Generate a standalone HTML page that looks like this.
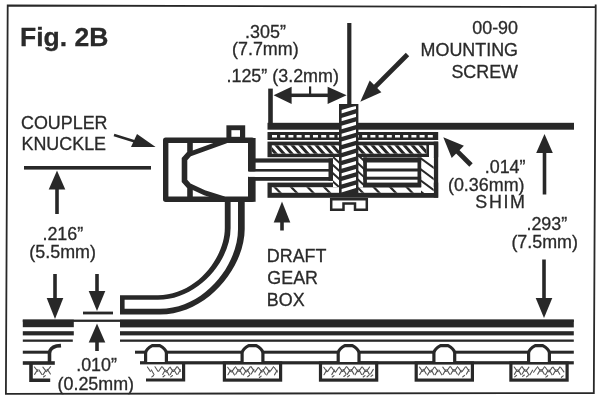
<!DOCTYPE html>
<html><head><meta charset="utf-8"><title>Fig. 2B</title>
<style>
html,body{margin:0;padding:0;background:#fff;}
svg{display:block;will-change:transform;}
svg text{font-family:"Liberation Sans",sans-serif;fill:#2a2a2a;stroke:#2a2a2a;stroke-width:0.3px;}
</style></head>
<body>
<svg width="600" height="401" viewBox="0 0 600 401" stroke="#282828" fill="none">
<rect x="0" y="0" width="600" height="401" fill="#fff" stroke="none"/>
<path d="M7.7,5.5 L595.7,7.2 L593.8,393 L5.9,393.9 Z M595.7,4.5 L595.7,8" fill="none" stroke-width="1.8"/>
<text x="20" y="46" text-anchor="start" font-size="26.5" font-weight="bold" >Fig. 2B</text>
<text x="21" y="129.3" text-anchor="start" font-size="17.9" font-weight="normal" >COUPLER</text>
<text x="21.5" y="150.3" text-anchor="start" font-size="17.9" font-weight="normal" >KNUCKLE</text>
<text x="265.5" y="37.5" text-anchor="middle" font-size="17.9" font-weight="normal" >.305”</text>
<text x="265.3" y="54.5" text-anchor="middle" font-size="17.9" font-weight="normal" >(7.7mm)</text>
<text x="226.5" y="82" text-anchor="start" font-size="17.9" font-weight="normal" >.125” (3.2mm)</text>
<text x="518" y="33.5" text-anchor="end" font-size="17.9" font-weight="normal" >00-90</text>
<text x="518" y="55.5" text-anchor="end" font-size="17.9" font-weight="normal" >MOUNTING</text>
<text x="518" y="77.5" text-anchor="end" font-size="17.9" font-weight="normal" >SCREW</text>
<text x="525.5" y="173" text-anchor="end" font-size="17.9" font-weight="normal" >.014”</text>
<text x="524.5" y="191" text-anchor="end" font-size="17.9" font-weight="normal" >(0.36mm)</text>
<text x="526.5" y="208" text-anchor="end" font-size="17.9" font-weight="normal" letter-spacing="1.6">SHIM</text>
<text x="546.8" y="229.5" text-anchor="middle" font-size="17.9" font-weight="normal" >.293”</text>
<text x="544.7" y="247.5" text-anchor="middle" font-size="17.9" font-weight="normal" >(7.5mm)</text>
<text x="62.8" y="240" text-anchor="middle" font-size="17.9" font-weight="normal" >.216”</text>
<text x="62.6" y="258" text-anchor="middle" font-size="17.9" font-weight="normal" >(5.5mm)</text>
<text x="96.6" y="371" text-anchor="middle" font-size="17.9" font-weight="normal" >.010”</text>
<text x="95.8" y="389.5" text-anchor="middle" font-size="17.9" font-weight="normal" >(0.25mm)</text>
<text x="266.8" y="262" text-anchor="start" font-size="17.9" font-weight="normal" >DRAFT</text>
<text x="267.3" y="284.3" text-anchor="start" font-size="17.9" font-weight="normal" >GEAR</text>
<text x="266.8" y="306" text-anchor="start" font-size="17.9" font-weight="normal" >BOX</text>
<rect x="22.8" y="319.6" width="51" height="7.6" fill="#282828" stroke="none" />
<rect x="22.8" y="319.6" width="551" height="2.3" fill="#282828" stroke="none" />
<rect x="120" y="319.6" width="453.8" height="7.8" fill="#282828" stroke="none" />
<rect x="22.8" y="331.2" width="51" height="4.2" fill="#282828" stroke="none" />
<rect x="120" y="331.2" width="453.8" height="4.2" fill="#282828" stroke="none" />
<rect x="22.8" y="339.5" width="50" height="2.3" fill="#282828" stroke="none" />
<rect x="120" y="339.5" width="453.8" height="2.3" fill="#282828" stroke="none" />
<rect x="22.8" y="350.7" width="26" height="3" fill="#282828" stroke="none" />
<rect x="135" y="350.7" width="438.8" height="3" fill="#282828" stroke="none" />
<rect x="22.8" y="361.2" width="32" height="3.6" fill="#282828" stroke="none" />
<rect x="140" y="361.2" width="433.8" height="3.2" fill="#282828" stroke="none" />
<rect x="510.90000000000003" y="363" width="56.199999999999996" height="17.1" fill="#fff" stroke-width="3.2"/>
<path d="M514.2,367.0 L517.3,371.4 M514.4,374.4 L517.1,369.8 M514.8,376.8 l1.8,-1.4 M518.1,371.6 L521.2,367.2 M518.3,370.0 L521.0,374.6 M522.0,366.6 L525.1,371.0 M522.2,374.0 L524.9,369.4 M522.6,376.4 l1.8,-1.4 M525.9,371.5 L528.9,367.1 M526.1,369.9 L528.7,374.5 M526.5,376.9 l1.8,-1.4 M529.9,374.8 L532.6,370.2 M533.6,372.2 L536.7,367.8 M537.5,366.8 L540.6,371.2 M537.7,374.2 L540.4,369.6 M541.4,371.2 L544.5,366.8 M541.6,369.6 L544.3,374.2 M545.3,367.3 L548.4,371.7 M545.5,374.7 L548.2,370.1 M545.9,377.1 l1.8,-1.4 M549.2,371.8 L552.2,367.4 M549.4,370.2 L552.0,374.8 M553.0,367.1 L556.1,371.5 M553.2,374.5 L555.9,369.9 M556.9,371.3 L560.0,366.9 M557.1,369.7 L559.8,374.3 M560.8,367.5 L563.9,371.9 M561.4,377.3 l1.8,-1.4" stroke="#555" stroke-width="1.1" fill="none" stroke-linecap="round"/>
<path d="M528.6,362 L528.6,352.6 Q529.6,348.6 535.2,345.6 L542.8,345.6 Q548.4,348.6 549.4,352.6 L549.4,362 Z" fill="#fff" stroke="none"/>
<path d="M528.6,362 L528.6,352.6 Q529.6,348.6 535.2,345.6 L542.8,345.6 Q548.4,348.6 549.4,352.6 L549.4,362" fill="none" stroke-width="3.2" stroke-linejoin="round"/>
<rect x="416.20000000000005" y="363" width="56.199999999999996" height="17.1" fill="#fff" stroke-width="3.2"/>
<path d="M419.5,367.1 L422.6,371.5 M419.7,374.5 L422.4,369.9 M423.4,371.0 L426.5,366.6 M423.6,369.4 L426.3,374.0 M427.3,367.7 L430.4,372.1 M427.5,375.1 L430.2,370.5 M431.2,371.7 L434.2,367.3 M431.4,370.1 L434.0,374.7 M435.0,367.2 L438.1,371.6 M435.2,374.6 L437.9,370.0 M439.1,370.2 L441.8,374.8 M442.8,367.1 L445.9,371.5 M443.0,374.5 L445.7,369.9 M446.7,371.2 L449.8,366.8 M446.9,369.6 L449.6,374.2 M450.6,366.8 L453.7,371.2 M450.8,374.2 L453.5,369.6 M454.5,371.1 L457.5,366.7 M454.7,369.5 L457.3,374.1 M458.3,367.6 L461.4,372.0 M458.5,375.0 L461.2,370.4 M462.2,371.4 L465.3,367.0 M462.8,376.8 l1.8,-1.4 M466.1,366.8 L469.2,371.2 M466.3,374.2 L469.0,369.6" stroke="#555" stroke-width="1.1" fill="none" stroke-linecap="round"/>
<path d="M433.90000000000003,362 L433.90000000000003,352.6 Q434.90000000000003,348.6 440.5,345.6 L448.1,345.6 Q453.7,348.6 454.7,352.6 L454.7,362 Z" fill="#fff" stroke="none"/>
<path d="M433.90000000000003,362 L433.90000000000003,352.6 Q434.90000000000003,348.6 440.5,345.6 L448.1,345.6 Q453.7,348.6 454.7,352.6 L454.7,362" fill="none" stroke-width="3.2" stroke-linejoin="round"/>
<rect x="320.50000000000006" y="363" width="56.199999999999996" height="17.1" fill="#fff" stroke-width="3.2"/>
<path d="M323.8,367.3 L326.9,371.7 M324.0,374.7 L326.7,370.1 M327.7,371.4 L330.8,367.0 M331.6,367.2 L334.7,371.6 M331.8,374.6 L334.5,370.0 M332.2,377.0 l1.8,-1.4 M335.5,372.1 L338.5,367.7 M339.3,367.1 L342.4,371.5 M339.5,374.5 L342.2,369.9 M343.2,371.1 L346.3,366.7 M343.4,369.5 L346.1,374.1 M343.8,376.5 l1.8,-1.4 M347.1,367.0 L350.2,371.4 M347.3,374.4 L350.0,369.8 M347.7,376.8 l1.8,-1.4 M351.0,371.1 L354.1,366.7 M351.2,369.5 L353.9,374.1 M354.9,367.3 L358.0,371.7 M355.1,374.7 L357.8,370.1 M358.8,371.4 L361.8,367.0 M359.0,369.8 L361.6,374.4 M362.6,367.2 L365.7,371.6 M362.8,374.6 L365.5,370.0 M363.2,377.0 l1.8,-1.4 M366.5,371.4 L369.6,367.0 M366.7,369.8 L369.4,374.4 M367.1,376.8 l1.8,-1.4 M370.6,374.0 L373.3,369.4 M371.0,376.4 l1.8,-1.4" stroke="#555" stroke-width="1.1" fill="none" stroke-linecap="round"/>
<path d="M338.20000000000005,362 L338.20000000000005,352.6 Q339.20000000000005,348.6 344.8,345.6 L352.40000000000003,345.6 Q358.0,348.6 359.0,352.6 L359.0,362 Z" fill="#fff" stroke="none"/>
<path d="M338.20000000000005,362 L338.20000000000005,352.6 Q339.20000000000005,348.6 344.8,345.6 L352.40000000000003,345.6 Q358.0,348.6 359.0,352.6 L359.0,362" fill="none" stroke-width="3.2" stroke-linejoin="round"/>
<rect x="224.4" y="363" width="56.199999999999996" height="17.1" fill="#fff" stroke-width="3.2"/>
<path d="M227.7,367.3 L230.8,371.7 M227.9,374.7 L230.6,370.1 M231.6,372.0 L234.7,367.6 M231.8,370.4 L234.5,375.0 M235.5,366.8 L238.6,371.2 M235.7,374.2 L238.4,369.6 M239.4,371.4 L242.4,367.0 M239.6,369.8 L242.2,374.4 M243.2,367.6 L246.3,372.0 M243.4,375.0 L246.1,370.4 M247.1,371.3 L250.2,366.9 M247.3,369.7 L250.0,374.3 M247.7,376.7 l1.8,-1.4 M251.0,366.6 L254.1,371.0 M251.2,374.0 L253.9,369.4 M254.9,372.1 L258.0,367.7 M258.8,367.7 L261.9,372.1 M259.0,375.1 L261.7,370.5 M259.4,377.5 l1.8,-1.4 M262.7,371.2 L265.7,366.8 M262.9,369.6 L265.5,374.2 M266.5,367.6 L269.6,372.0 M266.7,375.0 L269.4,370.4 M270.4,371.1 L273.5,366.7 M274.3,367.5 L277.4,371.9 M274.5,374.9 L277.2,370.3" stroke="#555" stroke-width="1.1" fill="none" stroke-linecap="round"/>
<path d="M242.1,362 L242.1,352.6 Q243.1,348.6 248.7,345.6 L256.3,345.6 Q261.9,348.6 262.9,352.6 L262.9,362 Z" fill="#fff" stroke="none"/>
<path d="M242.1,362 L242.1,352.6 Q243.1,348.6 248.7,345.6 L256.3,345.6 Q261.9,348.6 262.9,352.6 L262.9,362" fill="none" stroke-width="3.2" stroke-linejoin="round"/>
<path d="M146,380 L183.6,380 L183.6,363" fill="none" stroke-width="3.2"/>
<path d="M147.4,367.0 L150.4,371.4 M151.4,369.9 L154.0,374.5 M151.8,376.9 l1.8,-1.4 M155.0,366.8 L157.9,371.2 M158.7,371.2 L161.7,366.8 M162.5,367.0 L165.5,371.4 M162.7,374.4 L165.3,369.8 M163.1,376.8 l1.8,-1.4 M166.3,372.2 L169.3,367.8 M166.5,370.6 L169.1,375.2 M170.1,367.1 L173.0,371.5 M170.3,374.5 L172.8,369.9 M170.7,376.9 l1.8,-1.4 M173.8,371.3 L176.8,366.9 M174.0,369.7 L176.6,374.3 M177.6,366.9 L180.6,371.3 M177.8,374.3 L180.4,369.7" stroke="#555" stroke-width="1.1" fill="none" stroke-linecap="round"/>
<path d="M145.6,362 L145.6,352.6 Q146.6,348.6 152.2,345.6 L159.8,345.6 Q165.4,348.6 166.4,352.6 L166.4,362 Z" fill="#fff" stroke="none"/>
<path d="M145.6,362 L145.6,352.6 Q146.6,348.6 152.2,345.6 L159.8,345.6 Q165.4,348.6 166.4,352.6 L166.4,362" fill="none" stroke-width="3.2" stroke-linejoin="round"/>
<path d="M50.2,380.2 L31,380.2 L31,363" fill="none" stroke-width="3.6"/>
<path d="M34.4,367.0 L37.9,371.4 M34.6,374.4 L37.6,369.8 M38.9,369.9 L41.9,374.5 M42.9,367.2 L46.4,371.6 M43.1,374.6 L46.1,370.0 M43.5,377.0 l1.8,-1.4 M47.1,371.0 L50.6,366.6 M47.4,369.4 L50.4,374.0" stroke="#555" stroke-width="1.1" fill="none" stroke-linecap="round"/>
<path d="M49.5,362 L49.5,353 Q50,347.8 56.5,346 L61,345.6" fill="none" stroke-width="3.6"/>
<rect x="83" y="311.6" width="30" height="2.8" fill="#282828" stroke="none" />
<polygon points="97,311 88.7,291 105.3,291" fill="#282828" stroke="none" />
<line x1="97" y1="292" x2="97" y2="274" stroke-width="3.6" />
<polygon points="97,323.5 88.7,342.5 105.3,342.5" fill="#282828" stroke="none" />
<line x1="97" y1="341.5" x2="97" y2="351" stroke-width="3.6" />
<polygon points="55,319 46.7,298 63.3,298" fill="#282828" stroke="none" />
<line x1="55" y1="299" x2="55" y2="274" stroke-width="3.6" />
<polygon points="57,170.5 48.7,189.5 65.3,189.5" fill="#282828" stroke="none" />
<line x1="57" y1="188.5" x2="57" y2="214" stroke-width="3.6" />
<rect x="24" y="166" width="127" height="3.6" fill="#282828" stroke="none" />
<rect x="267.5" y="122.8" width="306.5" height="6.9" fill="#282828" stroke="none" />
<polygon points="544.5,134 536.2,153 552.8,153" fill="#282828" stroke="none" />
<line x1="544.5" y1="152" x2="544.5" y2="194.5" stroke-width="3.6" />
<polygon points="544,318 535.7,298 552.3,298" fill="#282828" stroke="none" />
<line x1="544" y1="299" x2="544" y2="259.5" stroke-width="3.6" />
<rect x="347.2" y="23" width="4.2" height="82" fill="#282828" stroke="none" />
<rect x="268.2" y="88.6" width="4.6" height="36" fill="#282828" stroke="none" />
<polygon points="346.6,95.3 327.6,86.7 327.6,103.9" fill="#282828" stroke="none" />
<line x1="328.6" y1="95.3" x2="300" y2="95.3" stroke-width="3.5" />
<polygon points="273.6,95.3 291.6,103.9 291.6,86.7" fill="#282828" stroke="none" />
<line x1="290.6" y1="95.3" x2="300" y2="95.3" stroke-width="3.5" />
<rect x="309" y="86.4" width="2.2" height="8" fill="#282828" stroke="none" />
<polygon points="360.3,101.7 381.4,92.3 369.7,80.6" fill="#282828" stroke="none" />
<line x1="374.9" y1="87.1" x2="407.5" y2="54.5" stroke-width="4.8" />
<polygon points="443.3,137.3 451.7,157.9 463.9,145.7" fill="#282828" stroke="none" />
<line x1="457.1" y1="151.1" x2="471" y2="165" stroke-width="4.8" />
<polygon points="282,201.5 273.7,222.5 290.3,222.5" fill="#282828" stroke="none" />
<line x1="282" y1="221.5" x2="282" y2="230.5" stroke-width="3.6" />
<polygon points="155.6,147 131,147 137,134" fill="#282828" stroke="none" />
<line x1="114" y1="135" x2="135" y2="141.5" stroke-width="2.6" />
<path d="M224.8,198 L224.8,228 C224.8,258 196,295.2 158,295.2 L120,295.2 L120,314.5 L160,314.5 C208,314.5 245.4,266 244.7,228 L244.7,198 Z" fill="#282828" stroke="none"/>
<path d="M230.6,198 L230.6,228 C230.6,261 198,299.8 158,299.8 L124.6,299.8 L124.6,308.8 L160,308.8 C205,308.8 238.6,264 238,228 L238,198 Z" fill="#fff" stroke="none"/>
<path d="M165.7,140.2 L252,140.2 L252,199.3 L165.7,199.3 Z" fill="#fff" stroke-width="5.4" stroke-linejoin="round"/>
<rect x="226.4" y="125.3" width="18.8" height="14" fill="#282828" stroke="none"/><rect x="231.4" y="130.2" width="8.6" height="6.6" fill="#fff" stroke="none"/>
<rect x="248" y="138" width="7.6" height="33.5" fill="#282828" stroke="none" />
<rect x="248" y="176.8" width="7.6" height="25" fill="#282828" stroke="none" />
<rect x="249" y="171.4" width="8" height="5.5" fill="#fff" stroke="none" />
<path d="M190,141 L190,153 L184.5,159 L184.5,181 L190,187 L190,199" fill="none" stroke-width="5.6"/>
<path d="M190,154 L208,147.5 L226,141" fill="none" stroke-width="5"/>
<path d="M190,186 L205,193 L224,199" fill="none" stroke-width="5"/>
<rect x="267.5" y="132" width="170.7" height="8" fill="#282828" stroke="none" />
<line x1="272" y1="136.2" x2="436" y2="136.2" stroke="#fff" stroke-width="2.4" stroke-dasharray="5,3.2"/>
<rect x="267.5" y="141.6" width="170.7" height="15.6" fill="#282828" stroke="none" />
<clipPath id="c1"><rect x="271.8" y="145.3" width="154.6" height="8.4"/></clipPath>
<rect x="271.8" y="145.3" width="154.6" height="8.4" fill="#fff" stroke="none" />
<g clip-path="url(#c1)" stroke="#282828" stroke-width="3.0">
<line x1="250.51" y1="143.3" x2="261.59" y2="155.70000000000002"/>
<line x1="258.51" y1="143.3" x2="269.59" y2="155.70000000000002"/>
<line x1="266.51" y1="143.3" x2="277.59" y2="155.70000000000002"/>
<line x1="274.51" y1="143.3" x2="285.59" y2="155.70000000000002"/>
<line x1="282.51" y1="143.3" x2="293.59" y2="155.70000000000002"/>
<line x1="290.51" y1="143.3" x2="301.59" y2="155.70000000000002"/>
<line x1="298.51" y1="143.3" x2="309.59" y2="155.70000000000002"/>
<line x1="306.51" y1="143.3" x2="317.59" y2="155.70000000000002"/>
<line x1="314.51" y1="143.3" x2="325.59" y2="155.70000000000002"/>
<line x1="322.51" y1="143.3" x2="333.59" y2="155.70000000000002"/>
<line x1="330.51" y1="143.3" x2="341.59" y2="155.70000000000002"/>
<line x1="338.51" y1="143.3" x2="349.59" y2="155.70000000000002"/>
<line x1="346.51" y1="143.3" x2="357.59" y2="155.70000000000002"/>
<line x1="354.51" y1="143.3" x2="365.59" y2="155.70000000000002"/>
<line x1="362.51" y1="143.3" x2="373.59" y2="155.70000000000002"/>
<line x1="370.51" y1="143.3" x2="381.59" y2="155.70000000000002"/>
<line x1="378.51" y1="143.3" x2="389.59" y2="155.70000000000002"/>
<line x1="386.51" y1="143.3" x2="397.59" y2="155.70000000000002"/>
<line x1="394.51" y1="143.3" x2="405.59" y2="155.70000000000002"/>
<line x1="402.51" y1="143.3" x2="413.59" y2="155.70000000000002"/>
<line x1="410.51" y1="143.3" x2="421.59" y2="155.70000000000002"/>
<line x1="418.51" y1="143.3" x2="429.59" y2="155.70000000000002"/>
<line x1="426.51" y1="143.3" x2="437.59" y2="155.70000000000002"/>
</g>
<rect x="429" y="145.3" width="4.7" height="15" fill="#fff" stroke="none" />
<rect x="433.7" y="141.6" width="4.5" height="56" fill="#282828" stroke="none" />
<rect x="267.5" y="182.6" width="170.7" height="15.2" fill="#282828" stroke="none" />
<clipPath id="c2"><rect x="271.8" y="187.2" width="162" height="5.6"/></clipPath>
<rect x="271.8" y="187.2" width="162" height="5.6" fill="#fff" stroke="none" />
<g clip-path="url(#c2)" stroke="#282828" stroke-width="2.2">
<line x1="223.34" y1="185.2" x2="232.76" y2="194.79999999999998"/>
<line x1="239.84" y1="185.2" x2="249.26" y2="194.79999999999998"/>
<line x1="256.34" y1="185.2" x2="265.76" y2="194.79999999999998"/>
<line x1="272.84" y1="185.2" x2="282.26" y2="194.79999999999998"/>
<line x1="289.34" y1="185.2" x2="298.76" y2="194.79999999999998"/>
<line x1="305.84" y1="185.2" x2="315.26" y2="194.79999999999998"/>
<line x1="322.34" y1="185.2" x2="331.76" y2="194.79999999999998"/>
<line x1="338.84" y1="185.2" x2="348.26" y2="194.79999999999998"/>
<line x1="355.34" y1="185.2" x2="364.76" y2="194.79999999999998"/>
<line x1="371.84" y1="185.2" x2="381.26" y2="194.79999999999998"/>
<line x1="388.34" y1="185.2" x2="397.76" y2="194.79999999999998"/>
<line x1="404.84" y1="185.2" x2="414.26" y2="194.79999999999998"/>
<line x1="421.34" y1="185.2" x2="430.76" y2="194.79999999999998"/>
<line x1="437.84" y1="185.2" x2="447.26" y2="194.79999999999998"/>
</g>
<clipPath id="c3"><rect x="421" y="157" width="12.7" height="36"/></clipPath>
<rect x="421" y="157" width="12.7" height="36" fill="#fff" stroke="none" />
<g clip-path="url(#c3)" stroke="#282828" stroke-width="2.0">
<line x1="371.3" y1="155.0" x2="425.3" y2="195.0"/>
<line x1="386.3" y1="155.0" x2="440.3" y2="195.0"/>
<line x1="401.3" y1="155.0" x2="455.3" y2="195.0"/>
<line x1="416.3" y1="155.0" x2="470.3" y2="195.0"/>
<line x1="431.3" y1="155.0" x2="485.3" y2="195.0"/>
</g>
<rect x="429" y="145.3" width="4.7" height="14" fill="#fff" stroke="none" />
<rect x="255" y="158.4" width="78" height="4.2" fill="#282828" stroke="none" />
<rect x="249" y="169" width="82" height="2.6" fill="#282828" stroke="none" />
<rect x="255" y="177" width="78" height="3.8" fill="#282828" stroke="none" />
<rect x="328.5" y="158.4" width="4.5" height="22.4" fill="#282828" stroke="none" />
<clipPath id="c4"><rect x="333" y="157" width="31" height="30"/></clipPath>
<rect x="333" y="157" width="31" height="30" fill="#fff" stroke="none" />
<g clip-path="url(#c4)" stroke="#282828" stroke-width="2.0">
<line x1="303.8" y1="155.0" x2="341.2" y2="189.0"/>
<line x1="312.8" y1="155.0" x2="350.2" y2="189.0"/>
<line x1="321.8" y1="155.0" x2="359.2" y2="189.0"/>
<line x1="330.8" y1="155.0" x2="368.2" y2="189.0"/>
<line x1="339.8" y1="155.0" x2="377.2" y2="189.0"/>
<line x1="348.8" y1="155.0" x2="386.2" y2="189.0"/>
<line x1="357.8" y1="155.0" x2="395.2" y2="189.0"/>
<line x1="366.8" y1="155.0" x2="404.2" y2="189.0"/>
</g>
<rect x="363.2" y="157.5" width="58" height="5" fill="#282828" stroke="none" />
<rect x="363.2" y="168.5" width="58" height="3" fill="#282828" stroke="none" />
<rect x="363.2" y="176.7" width="58" height="3" fill="#282828" stroke="none" />
<rect x="363.2" y="183.5" width="58" height="3.9" fill="#282828" stroke="none" />
<rect x="363.2" y="157.5" width="3.7" height="29.5" fill="#282828" stroke="none" />
<rect x="417.5" y="157.5" width="3.7" height="29.5" fill="#282828" stroke="none" />
<rect x="339" y="104" width="19.4" height="93" fill="#282828" stroke="none" />
<polygon points="341.4,102.1 356.0,97.8 356.0,101.2 341.4,105.5" fill="#fff" stroke="none" clip-path="url(#scr)"/>
<polygon points="341.4,110.0 356.0,105.7 356.0,109.1 341.4,113.4" fill="#fff" stroke="none" clip-path="url(#scr)"/>
<polygon points="341.4,117.9 356.0,113.6 356.0,117.0 341.4,121.3" fill="#fff" stroke="none" clip-path="url(#scr)"/>
<polygon points="341.4,125.8 356.0,121.5 356.0,124.9 341.4,129.2" fill="#fff" stroke="none" clip-path="url(#scr)"/>
<polygon points="341.4,133.7 356.0,129.4 356.0,132.8 341.4,137.1" fill="#fff" stroke="none" clip-path="url(#scr)"/>
<polygon points="341.4,141.6 356.0,137.3 356.0,140.7 341.4,145.0" fill="#fff" stroke="none" clip-path="url(#scr)"/>
<polygon points="341.4,149.5 356.0,145.2 356.0,148.6 341.4,152.9" fill="#fff" stroke="none" clip-path="url(#scr)"/>
<polygon points="341.4,157.4 356.0,153.1 356.0,156.5 341.4,160.8" fill="#fff" stroke="none" clip-path="url(#scr)"/>
<polygon points="341.4,165.3 356.0,161.0 356.0,164.4 341.4,168.7" fill="#fff" stroke="none" clip-path="url(#scr)"/>
<polygon points="341.4,173.2 356.0,168.9 356.0,172.3 341.4,176.6" fill="#fff" stroke="none" clip-path="url(#scr)"/>
<polygon points="341.4,181.1 356.0,176.8 356.0,180.2 341.4,184.5" fill="#fff" stroke="none" clip-path="url(#scr)"/>
<polygon points="341.4,189.0 356.0,184.7 356.0,188.1 341.4,192.4" fill="#fff" stroke="none" clip-path="url(#scr)"/>
<clipPath id="scr"><rect x="341.4" y="106.2" width="14.6" height="90"/></clipPath>
<path d="M331.2,199.2 L366.8,199.2 L366.8,209.8 L355,209.8 L355,203.5 L343.5,203.5 L343.5,209.8 L331.2,209.8 Z" fill="#fff" stroke-width="2.5"/>
</svg>
</body></html>
